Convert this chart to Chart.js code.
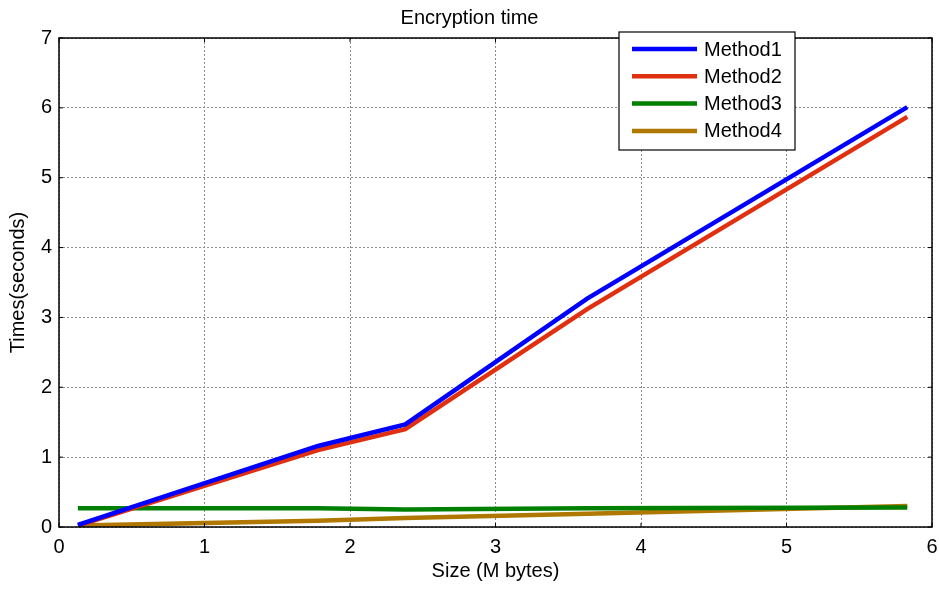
<!DOCTYPE html>
<html>
<head>
<meta charset="utf-8">
<title>Encryption time</title>
<script src="https://cdn.jsdelivr.net/npm/chart.js@4.4.1/dist/chart.umd.min.js"></script>
<style>
  html, body { margin: 0; padding: 0; background: #fff; }
  #box { width: 939px; height: 589px; }
</style>
</head>
<body>
<div id="box"><canvas id="chart"></canvas></div>
<script>
// Dados do grafico
var sizes = [0.13, 1.78, 2.38, 3.63, 5.83];
var method1 = [0.03, 1.16, 1.47, 3.27, 6.01];
var method2 = [0.02, 1.10, 1.40, 3.12, 5.87];
var method3 = [0.27, 0.27, 0.25, 0.27, 0.28];
var method4 = [0.02, 0.09, 0.13, 0.19, 0.30];
var names = ["Method1", "Method2", "Method3", "Method4"];
var colors = ["#0000FF", "#E03010", "#008000", "#B07800"];

var fontName = "'Liberation Sans', Arial, sans-serif";

function toPoints(values) {
  return values.map(function (v, i) { return { x: sizes[i], y: v }; });
}

var series = [method1, method2, method3, method4];
var datasets = series.map(function (values, i) {
  return {
    label: names[i],
    data: toPoints(values),
    borderColor: colors[i],
    backgroundColor: colors[i],
    borderWidth: 4.5,
    pointRadius: 0,
    tension: 0,
    fill: false
  };
});

// Moldura estilo matlab e ticks pra dentro
var framePlugin = {
  id: "frame",
  afterDraw: function (chart) {
    var ctx = chart.ctx;
    var a = chart.chartArea;
    var xs = chart.scales.x;
    var ys = chart.scales.y;
    ctx.save();
    ctx.strokeStyle = "#000";
    ctx.lineWidth = 1.5;
    ctx.strokeRect(a.left, a.top, a.right - a.left, a.bottom - a.top);
    ctx.lineWidth = 1;
    ctx.beginPath();
    xs.ticks.forEach(function (t) {
      var px = xs.getPixelForValue(t.value);
      ctx.moveTo(px, a.bottom); ctx.lineTo(px, a.bottom - 4);
      ctx.moveTo(px, a.top); ctx.lineTo(px, a.top + 4);
    });
    ys.ticks.forEach(function (t) {
      var py = ys.getPixelForValue(t.value);
      ctx.moveTo(a.left, py); ctx.lineTo(a.left + 4, py);
      ctx.moveTo(a.right, py); ctx.lineTo(a.right - 4, py);
    });
    ctx.stroke();

    // Legenda dentro do grafico
    var lx = 619, ly = 32, lw = 176, lh = 118;
    ctx.fillStyle = "#fff";
    ctx.fillRect(lx, ly, lw, lh);
    ctx.lineWidth = 1.2;
    ctx.strokeStyle = "#000";
    ctx.strokeRect(lx, ly, lw, lh);
    ctx.font = "20px " + fontName;
    ctx.textBaseline = "middle";
    ctx.textAlign = "left";
    chart.data.datasets.forEach(function (ds, i) {
      var cy = 49 + i * 27.3;
      ctx.strokeStyle = ds.borderColor;
      ctx.lineWidth = 4.5;
      ctx.beginPath();
      ctx.moveTo(632, cy);
      ctx.lineTo(697, cy);
      ctx.stroke();
      ctx.fillStyle = "#000";
      ctx.fillText(ds.label, 704, cy + 1);
    });
    ctx.restore();
  }
};

var MyChart = new Chart("chart", {
  type: "line",
  data: { datasets: datasets },
  options: {
    responsive: true,
    maintainAspectRatio: false,
    animation: false,
    layout: { padding: { left: 0, right: 0, top: 0, bottom: 0 } },
    plugins: {
      legend: { display: false },
      tooltip: { enabled: false },
      title: {
        display: true,
        text: "Encryption time",
        color: "#000",
        font: { family: fontName, size: 20, weight: "normal" },
        padding: { top: 6, bottom: 8 }
      }
    },
    scales: {
      x: {
        type: "linear",
        min: 0,
        max: 6,
        afterFit: function (scale) {
          scale.height = 62;
          scale.paddingLeft = 0;
          scale.paddingRight = 7;
        },
        ticks: {
          stepSize: 1,
          color: "#000",
          padding: 8,
          maxRotation: 0,
          font: { family: fontName, size: 20 }
        },
        grid: { color: "#8c8c8c", lineWidth: 1, drawTicks: false },
        border: { display: false, dash: [2, 2] },
        title: {
          display: true,
          text: "Size (M bytes)",
          color: "#000",
          font: { family: fontName, size: 20 },
          padding: { top: 0, bottom: 6 }
        }
      },
      y: {
        min: 0,
        max: 7,
        afterFit: function (scale) { scale.width = 59; },
        ticks: {
          stepSize: 1,
          color: "#000",
          padding: 7,
          font: { family: fontName, size: 20 }
        },
        grid: { color: "#8c8c8c", lineWidth: 1, drawTicks: false },
        border: { display: false, dash: [2, 2] },
        title: {
          display: true,
          text: "Times(seconds)",
          color: "#000",
          font: { family: fontName, size: 20 },
          padding: { top: 6, bottom: 0 }
        }
      }
    }
  },
  plugins: [framePlugin]
});
</script>
</body>
</html>
